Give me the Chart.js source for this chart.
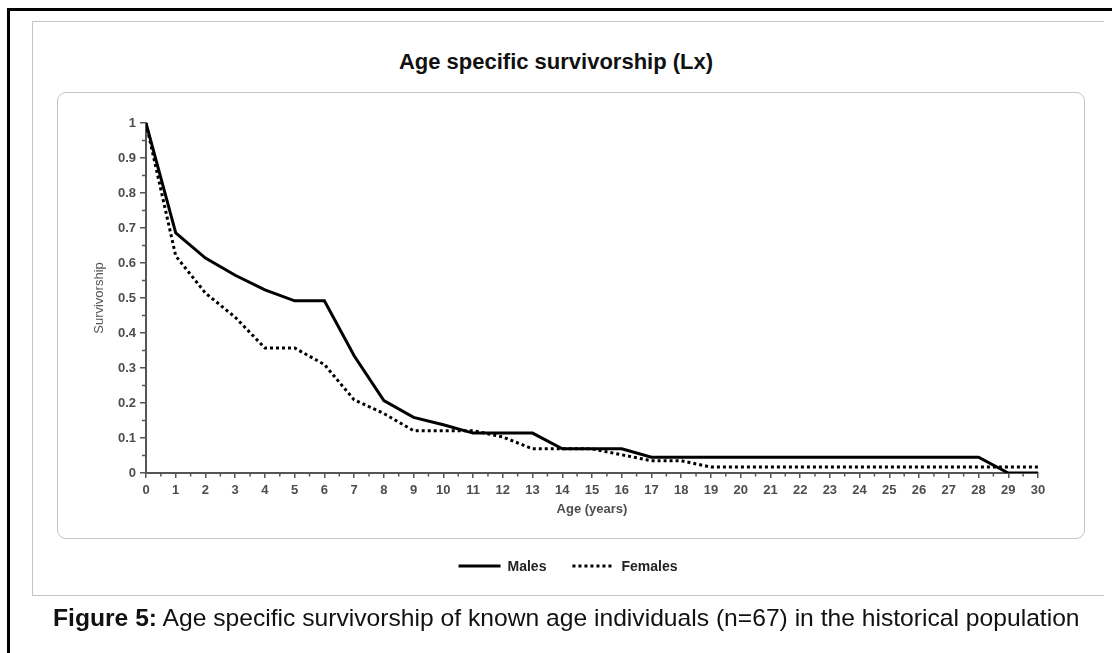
<!DOCTYPE html>
<html>
<head>
<meta charset="utf-8">
<title>Age specific survivorship (Lx)</title>
<script src="https://cdn.jsdelivr.net/npm/chart.js@4.4.0/dist/chart.umd.min.js"></script>
<style>
  html, body { margin: 0; padding: 0; background: #fff; }
  body {
    width: 1112px; height: 653px; position: relative; overflow: hidden;
    font-family: 'Liberation Sans', Arial, sans-serif;
  }
  .outer {
    position: absolute; left: 7px; top: 8px; width: 1200px; height: 700px;
    border-left: 3px solid #000; border-top: 3px solid #000;
  }
  .frame {
    position: absolute; left: 32px; top: 21px; width: 1072px; height: 575px;
    border: 1.5px solid #c4c4c4; border-right: none; box-sizing: border-box;
  }
  .plotbox {
    position: absolute; left: 57px; top: 92px; width: 1028px; height: 447px;
    border: 1.5px solid #c4c4c4; border-radius: 9px; box-sizing: border-box;
  }
  .title {
    position: absolute; left: 0; top: 49px; width: 1112px; line-height: 26px;
    text-align: center; font-weight: bold; font-size: 22px; color: #111;
  }
  .caption {
    position: absolute; left: 53px; top: 605px; line-height: 26px;
    font-size: 21px; color: #111; white-space: nowrap;
  }
  #chartWrap { position: absolute; left: 0; top: 0; width: 1112px; height: 653px; }
</style>
</head>
<body>
<div class="outer"></div>
<div class="frame"></div>
<div class="plotbox"></div>
<div class="title">Age specific survivorship (Lx)</div>
<div id="chartWrap"><canvas id="lxChart" width="1112" height="653"></canvas></div>
<div class="caption" id="caption"><b>Figure 5:</b> Age specific survivorship of known age individuals (n=67) in the historical population</div>

<script>
// Age classes (years)
const ages = [0, 1, 2, 3, 4, 5, 6, 7, 8, 9, 10, 11, 12, 13, 14, 15,
              16, 17, 18, 19, 20, 21, 22, 23, 24, 25, 26, 27, 28, 29, 30];

// Lx values
const males = [1, 0.686, 0.614, 0.565, 0.523, 0.492, 0.492, 0.335, 0.207, 0.159, 0.138,
               0.114, 0.114, 0.114, 0.069, 0.069, 0.069, 0.045, 0.045, 0.045, 0.045,
               0.045, 0.045, 0.045, 0.045, 0.045, 0.045, 0.045, 0.045, 0, 0];
const females = [1, 0.62, 0.514, 0.445, 0.357, 0.357, 0.31, 0.209, 0.17, 0.121, 0.121,
                 0.121, 0.103, 0.069, 0.069, 0.069, 0.052, 0.035, 0.035, 0.017, 0.017,
                 0.017, 0.017, 0.017, 0.017, 0.017, 0.017, 0.017, 0.017, 0.017, 0.017];

const seriesNames = ['Males', 'Females'];

const FONT = "'Liberation Sans', Arial, sans-serif";
const AXIS_COLOR = '#555555';

function toPoints(values) {
    return ages.map((a, i) => ({ x: a, y: values[i] }));
}

// short minor ticks between the labelled ones
const minorTicks = {
    id: 'minorTicks',
    afterDraw(chart) {
        const { ctx, scales: { x, y } } = chart;
        ctx.save();
        ctx.strokeStyle = AXIS_COLOR;
        ctx.lineWidth = 1.5;
        ctx.beginPath();
        for (let v = 0.5; v < x.max; v += 1) {
            const px = x.getPixelForValue(v);
            ctx.moveTo(px, y.bottom);
            ctx.lineTo(px, y.bottom + 3.5);
        }
        for (let v = 0.05; v < y.max; v += 0.1) {
            const py = y.getPixelForValue(v);
            ctx.moveTo(y.right - 4, py);
            ctx.lineTo(y.right, py);
        }
        ctx.stroke();
        ctx.restore();
    }
};

// legend drawn below the plot box, line samples like the original
const bottomLegend = {
    id: 'bottomLegend',
    afterDraw(chart) {
        const ctx = chart.ctx;
        const lineLen = 42, gapText = 7, gapItem = 26, cy = 566, cx = 568;
        ctx.save();
        ctx.font = 'bold 14px ' + FONT;
        const widths = chart.data.datasets.map(ds => ctx.measureText(ds.label).width);
        let total = 0;
        widths.forEach((w, i) => { total += lineLen + gapText + w + (i ? gapItem : 0); });
        let x = cx - total / 2;
        chart.data.datasets.forEach((ds, i) => {
            if (i) x += gapItem;
            ctx.beginPath();
            ctx.strokeStyle = ds.borderColor;
            ctx.lineWidth = ds.borderWidth;
            ctx.setLineDash(ds.borderDash || []);
            ctx.moveTo(x, cy);
            ctx.lineTo(x + lineLen, cy);
            ctx.stroke();
            ctx.setLineDash([]);
            x += lineLen + gapText;
            ctx.fillStyle = '#222';
            ctx.textBaseline = 'middle';
            ctx.fillText(ds.label, x, cy + 1);
            x += widths[i];
        });
        ctx.restore();
    }
};

new Chart(document.getElementById('lxChart'), {
    type: 'line',
    data: {
        datasets: [
            {
                label: seriesNames[0],
                data: toPoints(males),
                borderColor: '#000',
                borderWidth: 3,
                pointRadius: 0,
                tension: 0
            },
            {
                label: seriesNames[1],
                data: toPoints(females),
                borderColor: '#000',
                borderWidth: 3,
                borderDash: [3, 3],
                pointRadius: 0,
                tension: 0
            }
        ]
    },
    options: {
        responsive: false,
        animation: false,
        layout: {
            padding: { left: 92, right: 74, top: 123, bottom: 136 }
        },
        plugins: {
            legend: { display: false },
            title: { display: false },
            tooltip: { enabled: false }
        },
        scales: {
            x: {
                type: 'linear',
                min: 0,
                max: 30,
                afterFit: function(scale) { scale.height = 44; },
                ticks: {
                    stepSize: 1,
                    autoSkip: false,
                    maxRotation: 0,
                    padding: 5,
                    color: '#4d4d4d',
                    font: { family: FONT, size: 13, weight: 'bold' }
                },
                grid: {
                    drawOnChartArea: false,
                    tickLength: 5,
                    color: AXIS_COLOR,
                    lineWidth: 1.5
                },
                border: { color: AXIS_COLOR, width: 2 },
                title: {
                    display: true,
                    text: 'Age (years)',
                    color: '#4d4d4d',
                    padding: 0,
                    font: { family: FONT, size: 13, weight: 'bold' }
                }
            },
            y: {
                min: 0,
                max: 1,
                afterFit: function(scale) { scale.width = 54; },
                ticks: {
                    stepSize: 0.1,
                    padding: 4,
                    color: '#4d4d4d',
                    font: { family: FONT, size: 13, weight: 'bold' },
                    callback: function(value) {
                        return String(Math.round(value * 10) / 10);
                    }
                },
                grid: {
                    drawOnChartArea: false,
                    tickLength: 6,
                    color: AXIS_COLOR,
                    lineWidth: 1.5
                },
                border: { color: AXIS_COLOR, width: 2 },
                title: {
                    display: true,
                    text: 'Survivorship',
                    color: '#555',
                    padding: 0,
                    font: { family: FONT, size: 13 }
                }
            }
        }
    },
    plugins: [minorTicks, bottomLegend]
});

// stretch the caption to the width it has in the figure
const caption = document.getElementById('caption');
const capWidth = caption.getBoundingClientRect().width;
caption.style.fontSize = (21 * 1027 / capWidth).toFixed(2) + 'px';
</script>
</body>
</html>
